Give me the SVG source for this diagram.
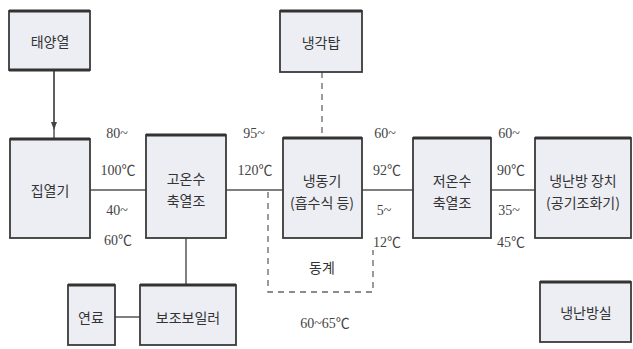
<svg xmlns="http://www.w3.org/2000/svg" width="633" height="349" viewBox="0 0 633 349">
<defs>
<style>
.box{fill:#eceef3;stroke:#3a3a3a;stroke-width:1.8}
.top{stroke:#333;stroke-width:3}
.t{font-family:"Noto Sans CJK KR","Noto Sans",sans-serif;font-size:14px;fill:#333;text-anchor:middle;dominant-baseline:central}
.lbl{font-family:"Liberation Serif","Noto Sans CJK KR",serif;font-size:14px;fill:#444;text-anchor:middle;dominant-baseline:central}
.ln{stroke:#555;stroke-width:1.5;fill:none}
.dash{stroke:#666;stroke-width:1.3;fill:none;stroke-dasharray:6 5}
</style>
<marker id="ah" markerWidth="8" markerHeight="8" refX="4" refY="4" orient="auto" markerUnits="userSpaceOnUse">
<path d="M0,1 L8,4 L0,7 Z" fill="#444"/>
</marker>
</defs>
<rect width="633" height="349" fill="#fff"/>

<g id="connectors">
<line class="ln" x1="54" y1="70" x2="54" y2="138"/>
<line class="ln" x1="54" y1="70" x2="54" y2="126" marker-end="url(#ah)"/>
<line class="ln" x1="90" y1="190" x2="146" y2="190"/>
<line class="ln" x1="226" y1="190" x2="283" y2="190"/>
<line class="ln" x1="362" y1="190" x2="413" y2="190"/>
<line class="ln" x1="491" y1="190" x2="535" y2="190"/>
<line class="ln" x1="186" y1="238" x2="186" y2="285"/>
<line class="ln" x1="115" y1="317" x2="140" y2="317"/>
<line class="dash" x1="322" y1="72" x2="322" y2="138"/>
<polyline class="dash" points="268,192 268,292 373,292 373,250"/>
</g>

<g id="n-solar"><rect class="box" x="9" y="11" width="81" height="59"/><line class="top" x1="9" y1="11" x2="90" y2="11"/><line class="top" x1="9" y1="70" x2="90" y2="70"/><text class="t" x="50" y="41">태양열</text></g>
<g id="n-collector"><rect class="box" x="10" y="139" width="80" height="99"/><line class="top" x1="10" y1="139" x2="90" y2="139"/><text class="t" x="50" y="190">집열기</text></g>
<g id="n-hotstore"><rect class="box" x="146" y="135" width="80" height="103"/><line class="top" x1="146" y1="135" x2="226" y2="135"/><text class="t" x="186" y="178">고온수</text><text class="t" x="186" y="200">축열조</text></g>
<g id="n-tower"><rect class="box" x="280" y="11" width="82" height="61"/><line class="top" x1="280" y1="11" x2="362" y2="11"/><text class="t" x="321" y="42">냉각탑</text></g>
<g id="n-chiller"><rect class="box" x="283" y="138" width="79" height="100"/><line class="top" x1="283" y1="138" x2="362" y2="138"/><text class="t" x="322" y="180">냉동기</text><text class="t" x="322" y="202">(흡수식 등)</text></g>
<g id="n-coldstore"><rect class="box" x="413" y="138" width="78" height="100"/><line class="top" x1="413" y1="138" x2="491" y2="138"/><text class="t" x="452" y="180">저온수</text><text class="t" x="452" y="202">축열조</text></g>
<g id="n-hvac"><rect class="box" x="535" y="138" width="96" height="100"/><line class="top" x1="535" y1="138" x2="631" y2="138"/><text class="t" x="583" y="180">냉난방 장치</text><text class="t" x="583" y="202">(공기조화기)</text></g>
<g id="n-fuel"><rect class="box" x="68" y="285" width="47" height="60"/><line class="top" x1="68" y1="285" x2="115" y2="285"/><text class="t" x="91" y="317">연료</text></g>
<g id="n-boiler"><rect class="box" x="140" y="285" width="96" height="60"/><line class="top" x1="140" y1="285" x2="236" y2="285"/><text class="t" x="188" y="317">보조보일러</text></g>
<g id="n-room"><rect class="box" x="540" y="282" width="91" height="60"/><line class="top" x1="540" y1="282" x2="631" y2="282"/><text class="t" x="586" y="312">냉난방실</text></g>

<g id="labels">
<text class="lbl" x="117" y="133">80~</text><text class="lbl" x="118" y="170">100℃</text>
<text class="lbl" x="117" y="210">40~</text><text class="lbl" x="118" y="240">60℃</text>
<text class="lbl" x="254" y="133">95~</text><text class="lbl" x="255" y="170">120℃</text>
<text class="lbl" x="385" y="133">60~</text><text class="lbl" x="387" y="170">92℃</text>
<text class="lbl" x="384" y="210">5~</text><text class="lbl" x="387" y="242">12℃</text>
<text class="lbl" x="509" y="133">60~</text><text class="lbl" x="511" y="170">90℃</text>
<text class="lbl" x="509" y="210">35~</text><text class="lbl" x="511" y="242">45℃</text>
<text class="t" x="322" y="267">동계</text>
<text class="lbl" x="325" y="323">60~65℃</text>
</g>
</svg>
